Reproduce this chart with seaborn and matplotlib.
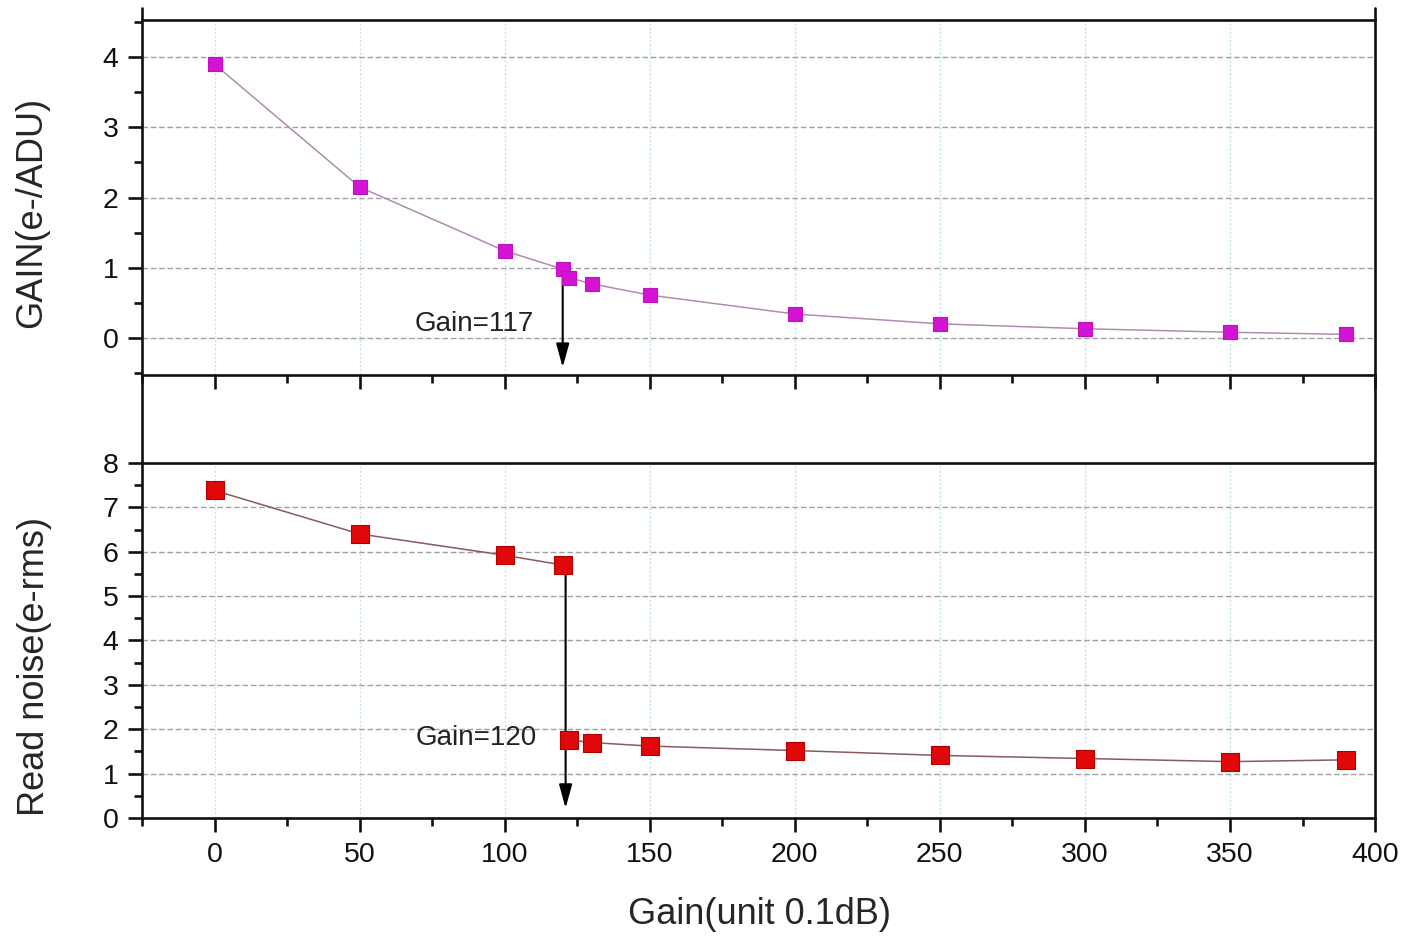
import matplotlib
matplotlib.use("Agg")
import matplotlib.pyplot as plt
from matplotlib.lines import Line2D
from matplotlib.ticker import MultipleLocator
import pandas as pd
import seaborn as sns

# values
gain_setting = [0, 50, 100, 120, 122, 130, 150, 200, 250, 300, 350, 390]
conv_gain = [3.90, 2.15, 1.24, 0.98, 0.86, 0.77, 0.61, 0.34, 0.20, 0.13, 0.08, 0.05]
read_noise = [7.38, 6.40, 5.92, 5.70, 1.76, 1.70, 1.62, 1.52, 1.41, 1.34, 1.27, 1.31]

top_note = "Gain=117"
bot_note = "Gain=120"

df = pd.DataFrame({"gain": gain_setting, "conv": conv_gain, "noise": read_noise})
# the noise curve is drawn in two pieces, split at the switch point
df["branch"] = ["low" if g <= 120 else "high" for g in df["gain"]]

sns.set_style("white")
plt.rcParams["font.family"] = ["Liberation Sans", "DejaVu Sans"]

fig = plt.figure(figsize=(14.06, 9.40), dpi=100)
ax_top = fig.add_axes([0.101, 0.601, 0.877, 0.3777])
ax_bot = fig.add_axes([0.101, 0.1298, 0.877, 0.3777])

# lines + square markers
sns.lineplot(data=df, x="gain", y="conv", ax=ax_top, color="#b08cb0", lw=1.1, zorder=3)
sns.scatterplot(data=df, x="gain", y="conv", ax=ax_top, marker="s", s=115,
                color="#d414d4", edgecolor="#c010c0", linewidth=0.8, zorder=5)
sns.lineplot(data=df, x="gain", y="noise", units="branch", estimator=None, ax=ax_bot,
             color="#8a5a5a", lw=1.1, zorder=3)
sns.scatterplot(data=df, x="gain", y="noise", ax=ax_bot, marker="s", s=160,
                color="#e00808", edgecolor="#b00000", linewidth=0.8, zorder=5)

for ax in (ax_top, ax_bot):
    ax.set_xlim(-25, 400)
    ax.xaxis.set_major_locator(MultipleLocator(50))
    ax.xaxis.set_minor_locator(MultipleLocator(25))
    ax.yaxis.set_major_locator(MultipleLocator(1))
    ax.yaxis.set_minor_locator(MultipleLocator(0.5))
    ax.yaxis.grid(True, which="major", linestyle=(0, (4, 2)), color="#a0a0a0", lw=1.0)
    ax.xaxis.grid(True, which="major", linestyle=(0, (1.5, 1.5)), color="#c4e4ec", lw=1.0)
    ax.set_axisbelow(True)
    for sp in ax.spines.values():
        sp.set_visible(True)
        sp.set_linewidth(1.9)
        sp.set_color("#111111")
    ax.tick_params(which="major", direction="out", length=10, width=1.9,
                   labelsize=20.5, pad=7, colors="#111111")
    ax.tick_params(which="minor", direction="out", length=5.5, width=1.9, colors="#111111")
    ax.tick_params(top=False, right=False, bottom=True, left=True, which="both")
    ax.set_xlabel("")
    ax.set_ylabel("")

ax_top.set_ylim(-0.53, 4.53)
ax_bot.set_ylim(0, 8)
ax_top.tick_params(labelbottom=False)

# arrows marking the switch point
ax_top.annotate("", xy=(120, -0.42), xytext=(120, 0.98),
                arrowprops=dict(arrowstyle="-|>,head_length=0.8,head_width=0.22",
                                color="black", lw=1.5, mutation_scale=18, shrinkA=0, shrinkB=0),
                zorder=4)
ax_bot.annotate("", xy=(121, 0.22), xytext=(121, 5.70),
                arrowprops=dict(arrowstyle="-|>,head_length=0.8,head_width=0.22",
                                color="black", lw=1.5, mutation_scale=18, shrinkA=0, shrinkB=0),
                zorder=4)
ax_top.text(110, 0.20, top_note, ha="right", va="center", fontsize=20, color="#222222")
ax_bot.text(111, 1.80, bot_note, ha="right", va="center", fontsize=20, color="#222222")

# outer frame lines joining the two panels
for xf in (0.101, 0.978):
    fig.add_artist(Line2D([xf, xf], [0.5074, 0.601], color="#111111", lw=1.9))
    fig.add_artist(Line2D([xf, xf], [0.9787, 0.9915], color="#111111", lw=1.9))

fig.text(32 / 1406, 0.7745, "GAIN(e-/ADU)", rotation=90, ha="center", va="center", fontsize=26)
fig.text(35 / 1406, 0.291, "Read noise(e-rms)", rotation=90, ha="center", va="center", fontsize=26)
fig.text(0.5405, 0.0266, "Gain(unit 0.1dB)", ha="center", va="center", fontsize=26)

fig.savefig("out.png", dpi=100)
